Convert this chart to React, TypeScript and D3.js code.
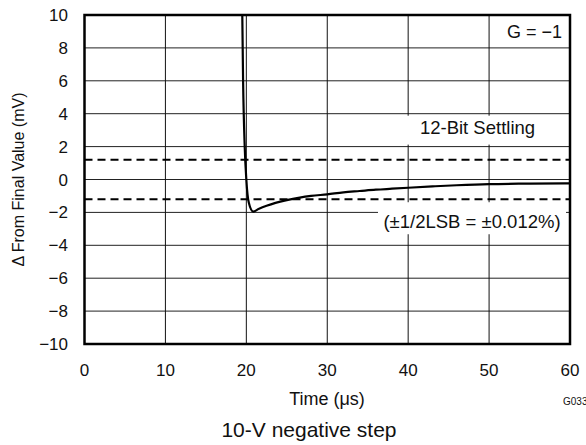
import React from "react";
import * as d3 from "d3";

const timeUs = [19.5, 19.6, 19.8, 20.0, 20.3, 20.85, 21.5, 22.5, 23.6, 25, 26.6, 28, 30, 32, 34, 36, 38, 40, 43, 46, 50, 55, 60];
const deltaMv = [10, 6, 2, 0, -1.4, -1.95, -1.8, -1.6, -1.42, -1.25, -1.1, -1.0, -0.9, -0.78, -0.7, -0.62, -0.56, -0.5, -0.42, -0.35, -0.28, -0.25, -0.23];
const xTicks = [0, 10, 20, 30, 40, 50, 60];
const yTicks = [-10, -8, -6, -4, -2, 0, 2, 4, 6, 8, 10];
const settlingBand = [1.2, -1.2];

const W = 586, H = 445;
const L = 84.5, R = 570, T = 15, B = 344;
const font = "Liberation Sans, Arial, Helvetica, sans-serif";

export default function App() {
  const x = d3.scaleLinear().domain([0, 60]).range([L, R]);
  const y = d3.scaleLinear().domain([-10, 10]).range([B, T]);
  const data = timeUs.map((t, i) => [t, deltaMv[i]] as [number, number]);
  const line = d3.line<[number, number]>().x(d => x(d[0])).y(d => y(d[1])).curve(d3.curveMonotoneX);

  return (
    <svg width={W} height={H} style={{ position: "absolute", left: 0, top: 0 }} fontFamily={font}>
      <rect width={W} height={H} fill="white" />
      {yTicks.slice(1, -1).map(v => (
        <line key={"hy" + v} x1={L} x2={R} y1={y(v)} y2={y(v)} stroke="#222" strokeWidth={1} />
      ))}
      {xTicks.slice(1, -1).map(v => (
        <line key={"vx" + v} x1={x(v)} x2={x(v)} y1={T} y2={B} stroke="#111" strokeWidth={1} />
      ))}
      {settlingBand.map(v => (
        <line key={"db" + v} x1={L} x2={R} y1={y(v)} y2={y(v)} stroke="#000" strokeWidth={2} strokeDasharray="8,5" />
      ))}
      <rect x={405} y={y(4) + 2} width={150} height={y(2) - y(4) - 4} fill="white" />
      <text x={477.5} y={134} fontSize={18.5} textAnchor="middle" fill="#111">12-Bit Settling</text>
      <rect x={378} y={y(-1.2) + 3} width={188} height={32} fill="white" />
      <text x={472} y={228} fontSize={18.5} textAnchor="middle" fill="#111">(±1/2LSB = ±0.012%)</text>
      <text x={562} y={38} fontSize={18} textAnchor="end" fill="#111">G = −1</text>
      <path d={line(data) || ""} fill="none" stroke="#000" strokeWidth={2.2} />
      <rect x={L} y={T} width={R - L} height={B - T} fill="none" stroke="#000" strokeWidth={2.5} />
      {yTicks.map(v => (
        <text key={"yt" + v} x={68} y={y(v) + 6} fontSize={17} textAnchor="end" fill="#111">
          {v < 0 ? "−" + Math.abs(v) : String(v)}
        </text>
      ))}
      {xTicks.map(v => (
        <text key={"xt" + v} x={x(v)} y={376} fontSize={17} textAnchor="middle" fill="#111">{v}</text>
      ))}
      <text transform={`translate(24,${(T + B) / 2}) rotate(-90)`} fontSize={16} textAnchor="middle" fill="#111">Δ From Final Value (mV)</text>
      <text x={327} y={405} fontSize={18} textAnchor="middle" fill="#111">Time (μs)</text>
      <text x={563} y={405} fontSize={10} fill="#111">G033</text>
      <text x={309} y={437} fontSize={21} textAnchor="middle" fill="#111">10-V negative step</text>
    </svg>
  );
}
